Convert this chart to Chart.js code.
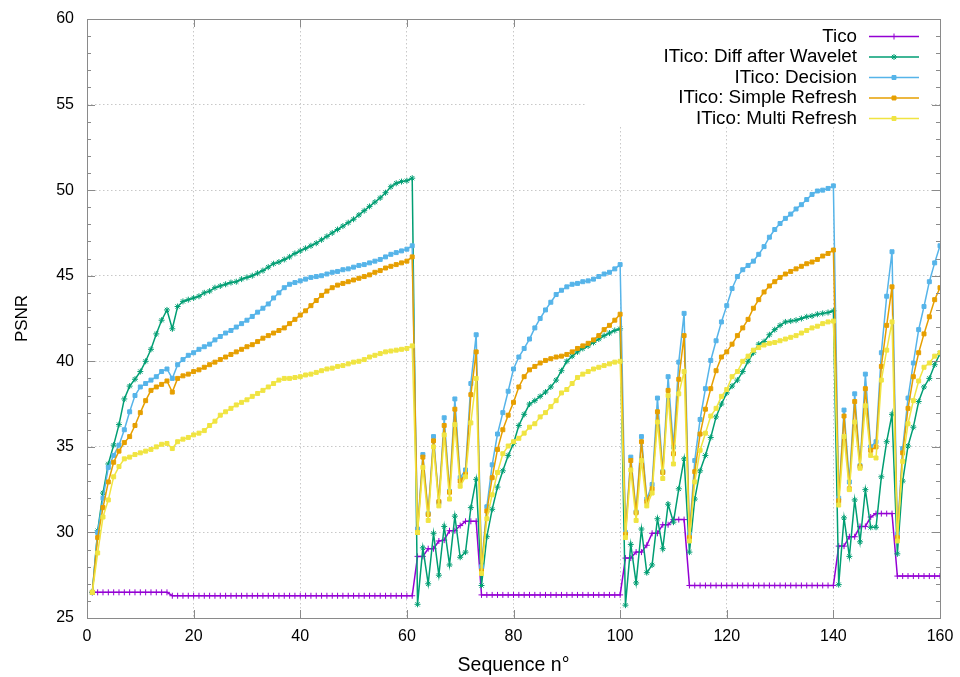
<!DOCTYPE html>
<html>
<head>
<meta charset="utf-8">
<title>PSNR per sequence</title>
<script src="https://cdn.jsdelivr.net/npm/chart.js@4.4.1/dist/chart.umd.min.js"></script>
<style>
  body { margin: 0; background: #fff; }
  #wrap { width: 960px; height: 677px; }
</style>
</head>
<body>
<div id="wrap"><canvas id="psnrChart" width="960" height="677"></canvas></div>
<script>
// frame numbers of the sequence
const frames = Array.from({ length: 160 }, (_, i) => i + 1);

const tico = [
  26.5, 26.5, 26.5, 26.5, 26.5, 26.5, 26.5, 26.5, 26.5, 26.5,
  26.5, 26.5, 26.5, 26.5, 26.5, 26.3, 26.3, 26.3, 26.3, 26.3,
  26.3, 26.3, 26.3, 26.3, 26.3, 26.3, 26.3, 26.3, 26.3, 26.3,
  26.3, 26.3, 26.3, 26.3, 26.3, 26.3, 26.3, 26.3, 26.3, 26.3,
  26.3, 26.3, 26.3, 26.3, 26.3, 26.3, 26.3, 26.3, 26.3, 26.3,
  26.3, 26.3, 26.3, 26.3, 26.3, 26.3, 26.3, 26.3, 26.3, 26.3,
  26.3, 28.6, 28.6, 29.05, 29.05, 29.5, 29.55, 30.1, 30.1, 30.4,
  30.65, 30.65, 30.65, 26.35, 26.35, 26.35, 26.35, 26.35, 26.35, 26.35,
  26.35, 26.35, 26.35, 26.35, 26.35, 26.35, 26.35, 26.35, 26.35, 26.35,
  26.35, 26.35, 26.35, 26.35, 26.35, 26.35, 26.35, 26.35, 26.35, 26.35,
  28.5, 28.5, 28.85, 28.85, 29.25, 29.95, 29.95, 30.45, 30.45, 30.75,
  30.75, 30.75, 26.9, 26.9, 26.9, 26.9, 26.9, 26.9, 26.9, 26.9,
  26.9, 26.9, 26.9, 26.9, 26.9, 26.9, 26.9, 26.9, 26.9, 26.9,
  26.9, 26.9, 26.9, 26.9, 26.9, 26.9, 26.9, 26.9, 26.9, 26.9,
  29.2, 29.2, 29.75, 29.75, 30.35, 30.35, 30.9, 31.1, 31.1, 31.1,
  31.1, 27.45, 27.45, 27.45, 27.45, 27.45, 27.45, 27.45, 27.45, 27.45
];

const diffAfterWavelet = [
  26.5, 30.1, 32.3, 34.0, 35.1, 36.3, 37.8, 38.55, 38.95, 39.4,
  40.0, 40.7, 41.6, 42.4, 43.0, 41.9, 43.2, 43.5, 43.6, 43.7,
  43.8, 44.0, 44.1, 44.3, 44.4, 44.5, 44.6, 44.65, 44.8, 44.9,
  45.0, 45.15, 45.3, 45.5, 45.7, 45.8, 45.95, 46.1, 46.3, 46.45,
  46.6, 46.75, 46.9, 47.1, 47.3, 47.5, 47.7, 47.9, 48.1, 48.3,
  48.55, 48.8, 49.05, 49.3, 49.55, 49.85, 50.2, 50.4, 50.5, 50.55,
  50.7, 25.8, 29.1, 27.0, 29.95, 27.5, 30.35, 28.1, 30.95, 28.55,
  28.85, 31.45, 33.1, 26.9, 29.75, 31.35, 32.65, 33.6, 34.5, 35.2,
  36.25, 36.9, 37.5, 37.7, 37.95, 38.2, 38.5, 38.9, 39.45, 40.0,
  40.3, 40.55, 40.75, 40.9, 41.1, 41.3, 41.5, 41.65, 41.8, 41.9,
  25.75, 29.3, 27.05, 30.2, 27.65, 28.1, 30.8, 29.05, 31.65, 30.6,
  32.55, 34.3, 28.85, 31.95, 33.6, 34.5, 35.55, 36.75, 37.5, 38.15,
  38.55, 38.9, 39.4, 40.0, 40.5, 41.0, 41.15, 41.55, 41.85, 42.1,
  42.3, 42.35, 42.4, 42.5, 42.6, 42.65, 42.75, 42.8, 42.85, 42.95,
  26.95, 30.85, 28.6, 31.9, 29.45, 32.5, 30.3, 30.3, 33.25, 35.3,
  36.9, 28.75, 33.0, 35.05, 36.15, 37.65, 38.5, 39.0, 39.8, 40.45
];

const decision = [
  26.5, 30.0, 32.0, 33.8, 34.5, 35.1, 36.0, 37.05, 38.0, 38.5,
  38.7, 38.9, 39.1, 39.4, 39.55, 39.0, 39.8, 40.1, 40.35, 40.5,
  40.7, 40.85, 41.0, 41.25, 41.45, 41.65, 41.8, 42.0, 42.2, 42.4,
  42.62, 42.87, 43.1, 43.35, 43.7, 44.0, 44.3, 44.5, 44.6, 44.7,
  44.8, 44.9, 44.95, 45.0, 45.1, 45.2, 45.25, 45.35, 45.4, 45.5,
  45.6, 45.65, 45.75, 45.85, 45.95, 46.1, 46.25, 46.35, 46.45, 46.55,
  46.75, 30.2, 34.55, 31.1, 35.6, 31.75, 36.7, 32.4, 37.8, 33.2,
  33.65, 38.7, 41.55, 28.0, 31.5, 33.95, 35.75, 37.0, 38.25, 39.55,
  40.25, 40.75, 41.3, 41.95, 42.5, 43.0, 43.45, 43.9, 44.15, 44.35,
  44.5, 44.55, 44.65, 44.7, 44.8, 44.95, 45.1, 45.2, 45.4, 45.65,
  30.0, 34.4, 31.2, 35.6, 31.95, 32.8, 37.85, 33.55, 39.1, 35.0,
  39.95, 42.8, 29.9, 34.2, 36.6, 38.4, 40.05, 41.2, 42.3, 43.25,
  44.25, 44.95, 45.35, 45.6, 45.85, 46.25, 46.7, 47.25, 47.7, 48.05,
  48.35, 48.6, 48.9, 49.15, 49.45, 49.75, 49.95, 50.0, 50.1, 50.25,
  32.0, 37.15, 32.95, 38.1, 33.9, 39.25, 35.0, 35.3, 40.5, 43.8,
  46.4, 29.9, 34.9, 37.85, 39.9, 41.85, 43.2, 44.65, 45.75, 46.75
];

const simpleRefresh = [
  26.5, 29.7, 31.45, 32.95, 34.1, 34.75, 35.25, 35.6, 36.25, 37.0,
  37.7, 38.3, 38.5, 38.65, 38.85, 38.2, 39.0, 39.15, 39.25, 39.4,
  39.5, 39.65, 39.8, 39.95, 40.1, 40.25, 40.4, 40.55, 40.7, 40.85,
  40.97, 41.15, 41.35, 41.5, 41.65, 41.8, 41.95, 42.2, 42.45, 42.7,
  42.95, 43.25, 43.55, 43.85, 44.1, 44.3, 44.45, 44.55, 44.65, 44.75,
  44.85, 44.95, 45.05, 45.2, 45.3, 45.45, 45.55, 45.65, 45.75, 45.85,
  46.1, 30.0, 34.4, 31.05, 35.35, 31.8, 36.25, 32.35, 37.2, 33.0,
  33.4, 38.05, 40.55, 27.75, 31.25, 33.2, 34.85, 36.0, 36.85, 37.6,
  38.5, 39.1, 39.5, 39.7, 39.9, 40.05, 40.15, 40.25, 40.3, 40.4,
  40.55, 40.75, 40.9, 41.05, 41.25, 41.5, 41.85, 42.1, 42.4, 42.75,
  29.9, 34.2, 31.15, 35.3, 31.8, 32.55, 37.05, 33.5, 38.3, 34.6,
  38.95, 41.5, 29.7, 33.55, 35.75, 37.2, 38.4, 39.45, 40.25, 40.55,
  41.0, 41.5, 41.95, 42.45, 43.1, 43.6, 44.05, 44.4, 44.65, 44.9,
  45.1, 45.25, 45.4, 45.55, 45.7, 45.8, 45.95, 46.15, 46.3, 46.5,
  31.85, 36.8, 32.55, 37.65, 33.85, 38.4, 34.8, 35.0, 39.7, 42.1,
  44.35, 29.7, 34.65, 37.25, 39.1, 40.5, 41.6, 42.6, 43.6, 44.3
];

const multiRefresh = [
  26.5, 28.8, 30.9, 31.9, 33.25, 33.85, 34.3, 34.4, 34.55, 34.65,
  34.75, 34.85, 35.0, 35.15, 35.2, 34.9, 35.3, 35.45, 35.55, 35.7,
  35.8, 35.95, 36.25, 36.5, 36.85, 37.05, 37.25, 37.45, 37.6, 37.75,
  37.95, 38.12, 38.3, 38.5, 38.7, 38.9, 39.0, 39.0, 39.05, 39.1,
  39.2, 39.25, 39.35, 39.45, 39.55, 39.6, 39.7, 39.75, 39.85, 39.95,
  40.0, 40.1, 40.25, 40.35, 40.45, 40.55, 40.6, 40.65, 40.7, 40.75,
  40.9, 30.0, 33.8, 30.7, 35.0, 31.55, 35.7, 31.95, 36.3, 32.7,
  33.25, 36.4, 39.0, 27.6, 30.8, 32.2, 33.5, 34.6, 35.05, 35.3,
  35.5, 35.8, 36.15, 36.35, 36.75, 37.0, 37.35, 37.7, 38.15, 38.35,
  38.7, 39.05, 39.25, 39.4, 39.55, 39.65, 39.75, 39.85, 39.95, 40.0,
  29.7, 33.65, 30.7, 34.2, 31.55, 32.3, 36.45, 33.15, 38.0, 34.0,
  38.1, 39.4, 29.5, 32.95, 34.8, 35.8, 36.8, 37.25, 37.95, 38.35,
  39.1, 39.4, 40.0, 40.3, 40.65, 40.8, 40.95, 41.05, 41.1, 41.2,
  41.3, 41.4, 41.5, 41.65, 41.8, 41.95, 42.05, 42.2, 42.3, 42.35,
  31.6, 35.6, 32.5, 36.45, 33.75, 37.4, 34.5, 34.35, 38.9, 40.65,
  42.3, 29.5, 34.15, 36.35, 37.7, 38.85, 39.65, 39.9, 40.3, 40.5
];

const xTicks = [0, 20, 40, 60, 80, 100, 120, 140, 160];
const yTicks = [25, 30, 35, 40, 45, 50, 55, 60];

const FONT = '"Liberation Sans", Arial, sans-serif';

function series(label, values, color, pointStyle, radius, order) {
    return {
        label: label,
        data: frames.map((f, i) => ({ x: f, y: values[i] })),
        borderColor: color,
        backgroundColor: color,
        borderWidth: 1.5,
        pointStyle: pointStyle,
        pointRadius: radius,
        pointBorderWidth: 1,
        pointBorderColor: color,
        pointBackgroundColor: color,
        tension: 0,
        fill: false,
        order: order
    };
}

// border box with inward ticks, and the key in the top right corner
const gnuplotFrame = {
    id: 'gnuplotFrame',
    afterDatasetsDraw(chart) {
        const ctx = chart.ctx;
        const area = chart.chartArea;
        const xs = chart.scales.x;
        const ys = chart.scales.y;

        ctx.save();
        ctx.strokeStyle = '#8a8a8a';
        ctx.lineWidth = 1;
        ctx.beginPath();
        xTicks.forEach(v => {
            const px = Math.round(xs.getPixelForValue(v)) + 0.5;
            ctx.moveTo(px, area.bottom); ctx.lineTo(px, area.bottom - 8);
            ctx.moveTo(px, area.top); ctx.lineTo(px, area.top + 8);
        });
        for (let v = 25; v <= 60; v++) {
            const len = v % 5 === 0 ? 8 : 4;
            const py = Math.round(ys.getPixelForValue(v)) + 0.5;
            ctx.moveTo(area.left, py); ctx.lineTo(area.left + len, py);
            ctx.moveTo(area.right, py); ctx.lineTo(area.right - len, py);
        }
        ctx.stroke();
        ctx.strokeRect(Math.round(area.left) + 0.5, Math.round(area.top) + 0.5,
            Math.round(area.right - area.left), Math.round(area.bottom - area.top));

        // key
        ctx.fillStyle = '#fff';
        ctx.fillRect(585, area.top + 1, area.right - 594, 107);
        ctx.font = '18.8px ' + FONT;
        ctx.textAlign = 'right';
        ctx.textBaseline = 'middle';
        chart.data.datasets.forEach((ds, i) => {
            const y = 36.5 + i * 20.5;
            ctx.fillStyle = '#000';
            ctx.fillText(ds.label, 857, y);
            ctx.strokeStyle = ds.borderColor;
            ctx.lineWidth = 1.5;
            ctx.beginPath();
            ctx.moveTo(869, y); ctx.lineTo(919, y);
            ctx.stroke();
            if (Chart.helpers && Chart.helpers.drawPoint) {
                ctx.fillStyle = ds.borderColor;
                ctx.lineWidth = 1;
                Chart.helpers.drawPoint(ctx, {
                    pointStyle: ds.pointStyle, radius: ds.pointRadius, rotation: 0, borderWidth: 1
                }, 894, y);
            }
        });
        ctx.restore();
    }
};

const ctx = document.getElementById('psnrChart').getContext('2d');
new Chart(ctx, {
    type: 'line',
    data: {
        datasets: [
            series('Tico', tico, '#9400d3', 'cross', 3, 5),
            series('ITico: Diff after Wavelet', diffAfterWavelet, '#009e73', 'star', 3, 4),
            series('ITico: Decision', decision, '#56b4e9', 'rect', 2.8, 3),
            series('ITico: Simple Refresh', simpleRefresh, '#e69f00', 'rect', 2.8, 2),
            series('ITico: Multi Refresh', multiRefresh, '#f0e442', 'rect', 2.8, 1)
        ]
    },
    options: {
        responsive: false,
        animation: false,
        layout: { padding: { top: 19, right: 20, left: 0, bottom: 0 } },
        plugins: {
            legend: { display: false },
            tooltip: { enabled: false }
        },
        scales: {
            x: {
                type: 'linear',
                min: 0,
                max: 160,
                afterFit: scale => {
                    scale.height = 59;
                    scale.paddingLeft = 0;
                    scale.paddingRight = 0;
                },
                afterBuildTicks: scale => { scale.ticks = xTicks.map(v => ({ value: v })); },
                ticks: { color: '#000', font: { family: FONT, size: 16 }, padding: 9, maxRotation: 0 },
                grid: { color: '#c8c8c8', lineWidth: 1, drawTicks: false },
                border: { display: false, dash: [1.5, 2.5] },
                title: { display: true, text: 'Sequence n°', color: '#000', font: { family: FONT, size: 19.5 }, padding: { top: 0, bottom: 0 } }
            },
            y: {
                type: 'linear',
                min: 25,
                max: 60,
                afterFit: scale => {
                    scale.width = 87;
                    scale.paddingTop = 0;
                    scale.paddingBottom = 0;
                },
                afterBuildTicks: scale => { scale.ticks = yTicks.map(v => ({ value: v })); },
                ticks: { color: '#000', font: { family: FONT, size: 16 }, padding: 13 },
                grid: { color: '#c8c8c8', lineWidth: 1, drawTicks: false },
                border: { display: false, dash: [1.5, 2.5] },
                title: { display: true, text: 'PSNR', color: '#000', font: { family: FONT, size: 17 }, padding: { top: 12, bottom: 0 } }
            }
        }
    },
    plugins: [gnuplotFrame]
});
</script>
</body>
</html>
